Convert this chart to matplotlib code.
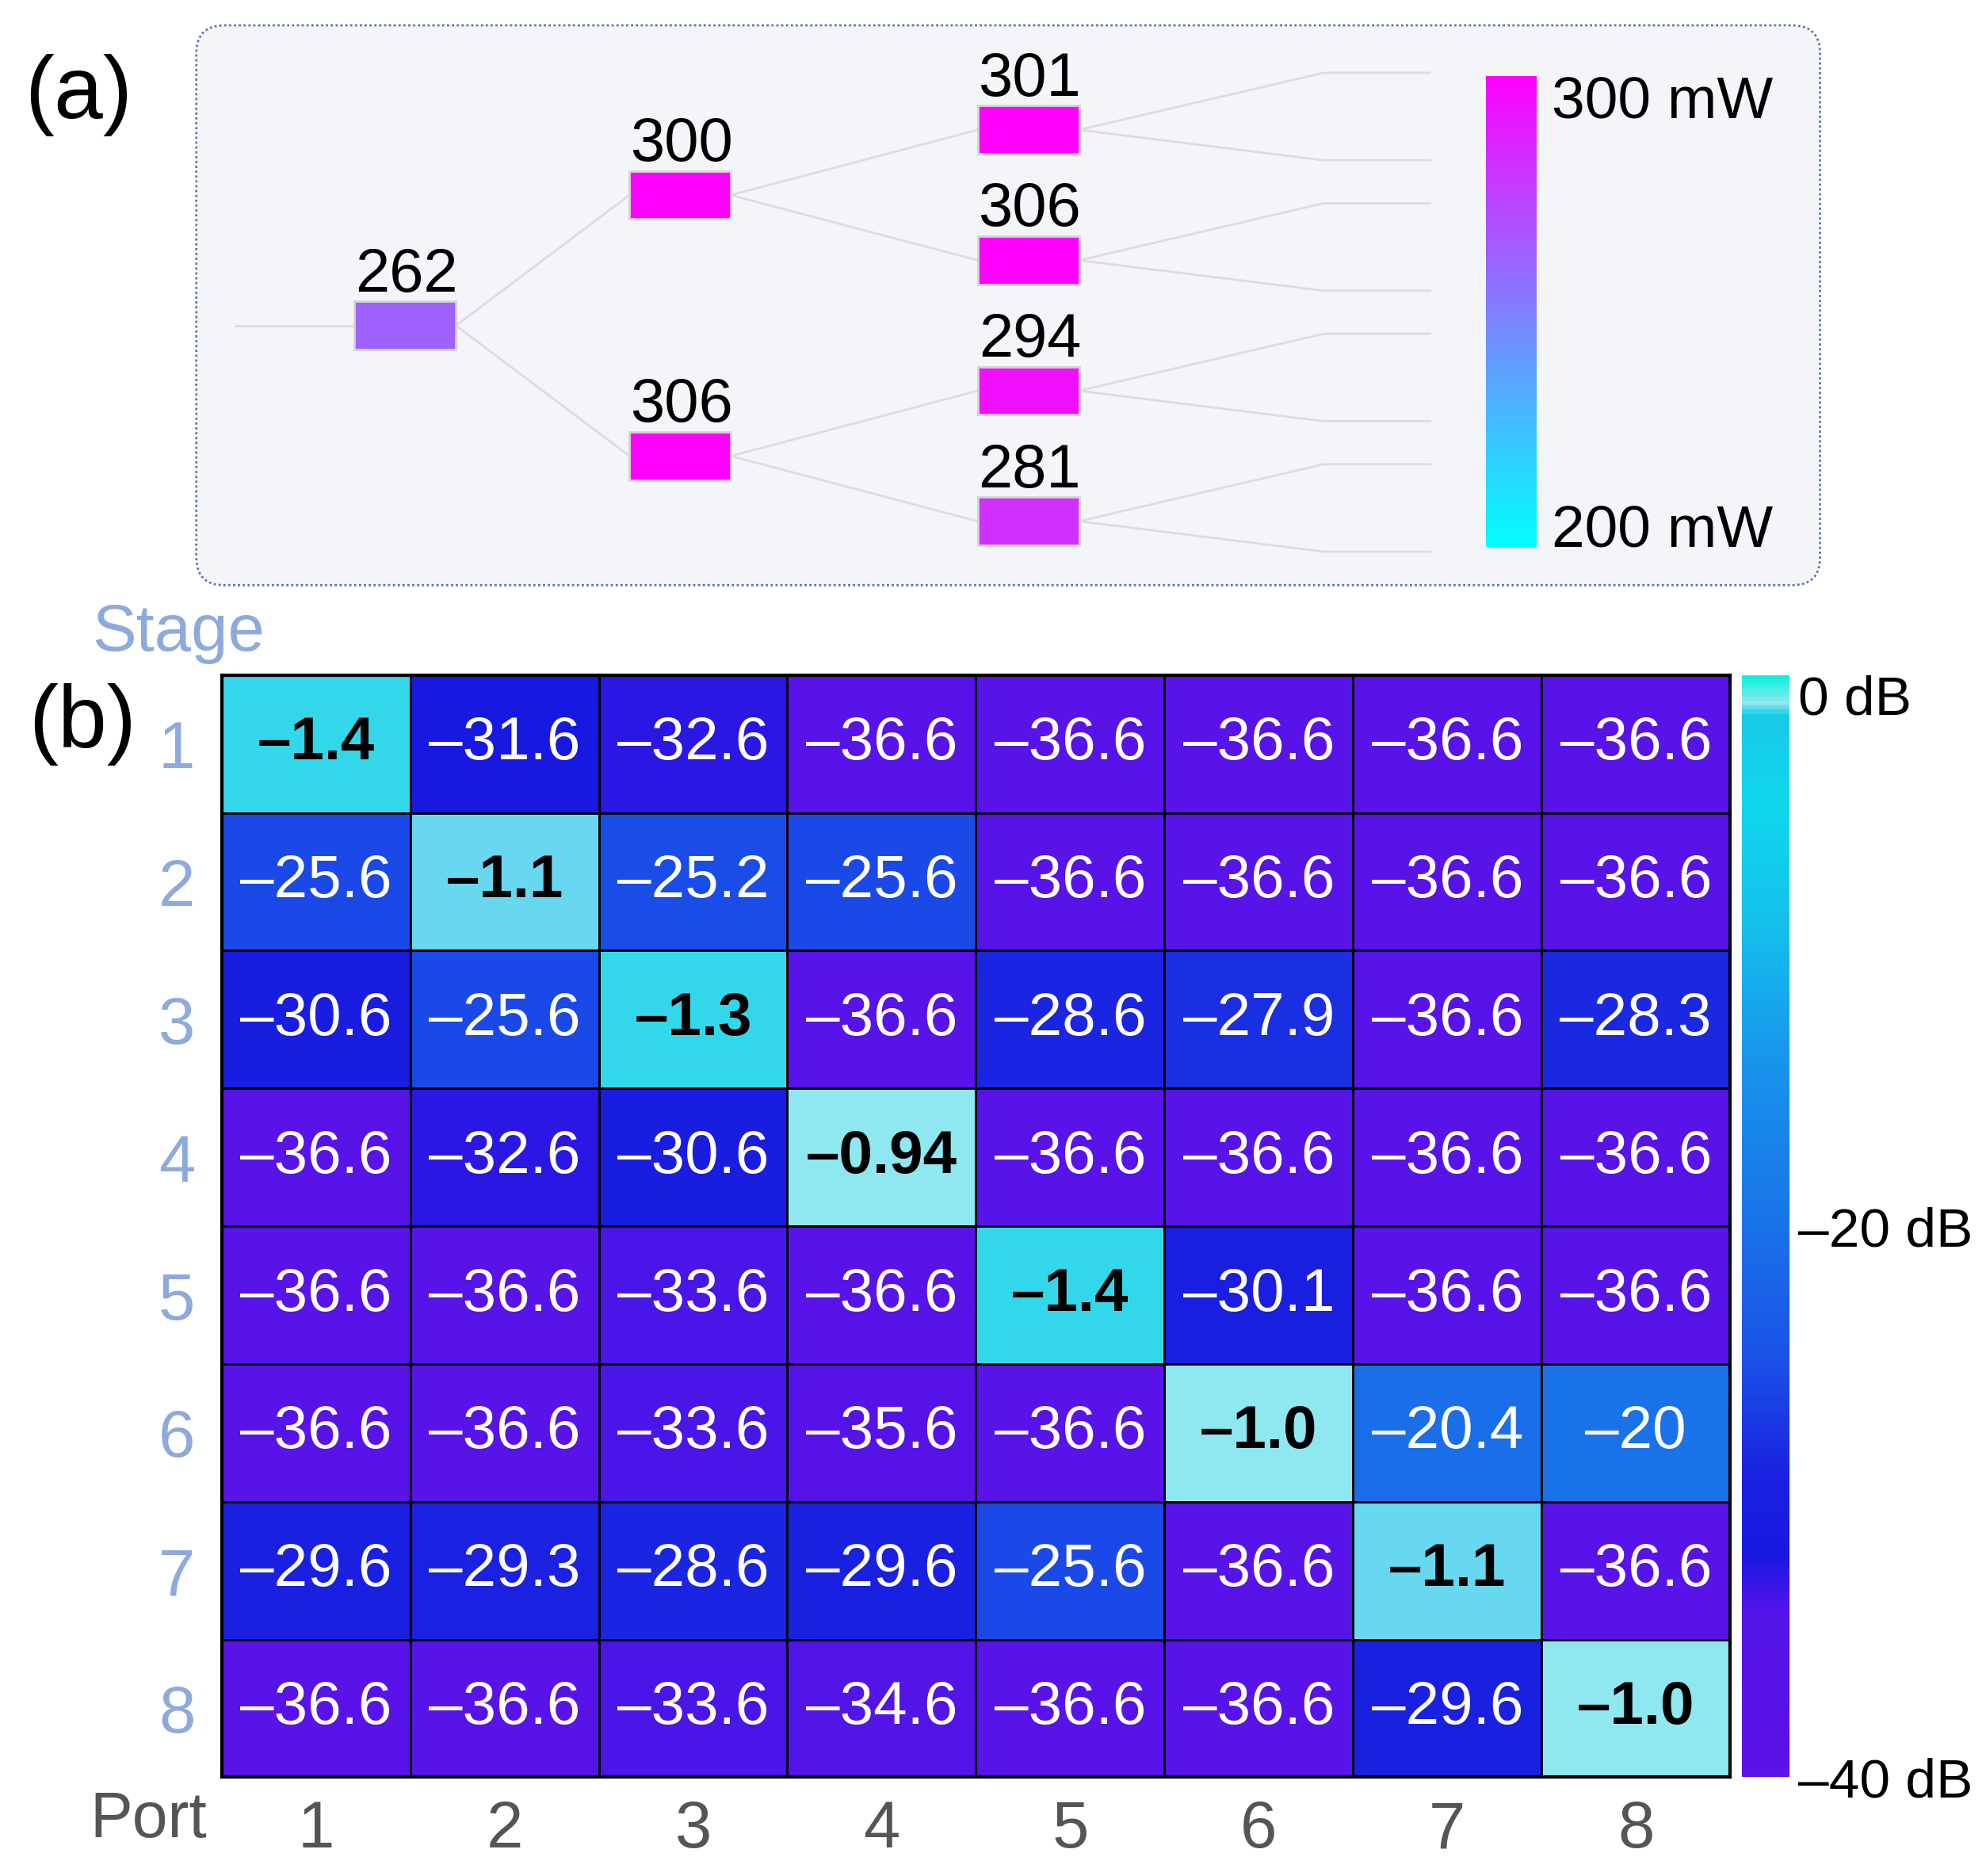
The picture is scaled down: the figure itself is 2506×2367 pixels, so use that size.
import numpy as np
import matplotlib
matplotlib.use("Agg")
import matplotlib.pyplot as plt
from matplotlib.colors import LinearSegmentedColormap, Normalize
from matplotlib.patches import FancyBboxPatch, Rectangle
import matplotlib.cm as cm

plt.rcParams['font.family'] = ['Liberation Sans', 'DejaVu Sans']

# ---------------- data ----------------
# Panel (a): optical power at each splitter stage (mW)
stage1_power = [262]
stage2_power = [300, 306]
stage3_power = [301, 306, 294, 281]
power_limits = [200, 300]
power_tick_labels = ["200 mW", "300 mW"]

# Panel (b): transmission matrix (dB)
stages = ["1", "2", "3", "4", "5", "6", "7", "8"]
ports = ["1", "2", "3", "4", "5", "6", "7", "8"]
loss_labels = [
    ["–1.4", "–31.6", "–32.6", "–36.6", "–36.6", "–36.6", "–36.6", "–36.6"],
    ["–25.6", "–1.1", "–25.2", "–25.6", "–36.6", "–36.6", "–36.6", "–36.6"],
    ["–30.6", "–25.6", "–1.3", "–36.6", "–28.6", "–27.9", "–36.6", "–28.3"],
    ["–36.6", "–32.6", "–30.6", "–0.94", "–36.6", "–36.6", "–36.6", "–36.6"],
    ["–36.6", "–36.6", "–33.6", "–36.6", "–1.4", "–30.1", "–36.6", "–36.6"],
    ["–36.6", "–36.6", "–33.6", "–35.6", "–36.6", "–1.0", "–20.4", "–20"],
    ["–29.6", "–29.3", "–28.6", "–29.6", "–25.6", "–36.6", "–1.1", "–36.6"],
    ["–36.6", "–36.6", "–33.6", "–34.6", "–36.6", "–36.6", "–29.6", "–1.0"],
]
db_limits = [-40, 0]
db_ticks = [0, -20, -40]
db_tick_labels = ["0 dB", "–20 dB", "–40 dB"]

values = np.array([[float(s.replace("–", "-")) for s in row] for row in loss_labels])

# ---------------- layout helpers ----------------
W, H = 1568.0, 1481.0
fig = plt.figure(figsize=(25.06, 23.67), dpi=100)
fig.patch.set_facecolor("white")


def fx(x):
    return x / W


def fy(y):
    return 1 - y / H


ax_a = fig.add_axes([0, 0, 1, 1])
ax_a.set_xlim(0, W)
ax_a.set_ylim(H, 0)
ax_a.axis("off")

# ---------------- panel (a) ----------------
panel = FancyBboxPatch((155, 20), 1282, 442,
                       boxstyle="round,pad=0,rounding_size=22",
                       fc="#f4f5f9", ec="#5b77ad", lw=2.0, ls=(0, (1, 1.2)), zorder=1)
ax_a.add_patch(panel)

pcmap = plt.get_cmap("cool")
pnorm = Normalize(power_limits[0], power_limits[1])

stage_x = [320, 537, 812]
box_w, box_h = 80, 38
y_root = 257
s1_y = [y_root]
s2_y = [y + d for y in s1_y for d in (-103, 103)]
s3_y = [y + d for y in s2_y for d in (-51.5, 51.5)]
line_kw = dict(color="#dcdcdc", lw=2.0, zorder=2, solid_capstyle="butt")

# input line
ax_a.plot([185, stage_x[0] - box_w / 2], [y_root, y_root], **line_kw)
# connections
levels = [s1_y, s2_y, s3_y]
for k in range(2):
    for i, yp in enumerate(levels[k]):
        for yc in levels[k + 1][2 * i:2 * i + 2]:
            ax_a.plot([stage_x[k] + box_w / 2, stage_x[k + 1] - box_w / 2], [yp, yc], **line_kw)
# outputs
for yp in s3_y:
    for dy in (-45, 24):
        ax_a.plot([stage_x[2] + box_w / 2, 1045, 1130], [yp, yp + dy, yp + dy], **line_kw)

powers = [stage1_power, stage2_power, stage3_power]
for k in range(3):
    for yp, p in zip(levels[k], powers[k]):
        ax_a.add_patch(Rectangle((stage_x[k] - box_w / 2, yp - box_h / 2), box_w, box_h,
                                 fc=pcmap(pnorm(p)), ec="#d4d4d4", lw=2.0, zorder=3))
        ax_a.text(stage_x[k] + 1, yp - box_h / 2 - 8, str(p), ha="center", va="baseline",
                  fontsize=56, color="black", zorder=4)

cax_a = fig.add_axes([fx(1173), fy(432), fx(1213) - fx(1173), (432 - 60) / H])
sm_a = cm.ScalarMappable(norm=pnorm, cmap=pcmap)
cb_a = fig.colorbar(sm_a, cax=cax_a)
cb_a.outline.set_visible(False)
cb_a.set_ticks(power_limits)
cb_a.set_ticklabels(power_tick_labels)
cax_a.tick_params(length=0, pad=14, labelsize=54)
for lab, v in zip(cax_a.get_yticklabels(), power_limits):
    lab.set_va("top" if v == power_limits[1] else "baseline")

# ---------------- panel (b) ----------------
heat_cmap = LinearSegmentedColormap.from_list("heat", [
    (0.0, "#5c12e8"),
    (6 / 40, "#5214e8"),
    (8 / 40, "#1818e0"),
    (11 / 40, "#1a22e0"),
    (15 / 40, "#1a50e8"),
    (20 / 40, "#1a72e8"),
    (26 / 40, "#1894ec"),
    (31 / 40, "#14c0ec"),
    (35.5 / 40, "#10d8ec"),
    (38.6 / 40, "#1ac8e8"),
    (38.7 / 40, "#22d8e8"),
    (38.9 / 40, "#68d8f0"),
    (39.0 / 40, "#70e0f0"),
    (39.06 / 40, "#90e8f0"),
    (1.0, "#10f0e0"),
])
hnorm = Normalize(db_limits[0], db_limits[1])

ax_b = fig.add_axes([fx(175), fy(1403), fx(1366) - fx(175), (1403 - 533) / H])
ax_b.pcolormesh(np.arange(len(ports) + 1), np.arange(len(stages) + 1), values,
                cmap=heat_cmap, norm=hnorm, edgecolors="black", linewidth=2.0)
ax_b.set_xlim(0, len(ports))
ax_b.set_ylim(len(stages), 0)
for sp in ax_b.spines.values():
    sp.set_linewidth(3)
ax_b.set_xticks(np.arange(len(ports)) + 0.5)
ax_b.set_xticklabels(ports)
ax_b.set_yticks(np.arange(len(stages)) + 0.5)
ax_b.set_yticklabels(stages)
ax_b.tick_params(axis="x", length=0, pad=20, labelsize=60, labelcolor="#555555")
ax_b.tick_params(axis="y", length=0, pad=24, labelsize=60, labelcolor="#8eaadc")

for i in range(len(stages)):
    for j in range(len(ports)):
        v = values[i, j]
        strong = v > -10
        ax_b.text(j + 0.5, i + 0.5, loss_labels[i][j], ha="center", va="center",
                  fontsize=55, color="black" if strong else "white",
                  fontweight="bold" if strong else "normal")

cax_b = fig.add_axes([fx(1375), fy(1403), fx(1413) - fx(1375), (1403 - 533) / H])
sm_b = cm.ScalarMappable(norm=hnorm, cmap=heat_cmap)
cb_b = fig.colorbar(sm_b, cax=cax_b)
cb_b.outline.set_visible(False)
cb_b.set_ticks(db_ticks)
cb_b.set_ticklabels(db_tick_labels)
cax_b.tick_params(length=0, pad=8, labelsize=50)
for lab, v in zip(cax_b.get_yticklabels(), db_ticks):
    lab.set_va("top" if v == db_limits[1] else "center_baseline")

# ---------------- free texts ----------------
ax_a.text(62, 75, "(a)", ha="center", va="center", fontsize=80, color="black")
ax_a.text(65, 572, "(b)", ha="center", va="center", fontsize=80, color="black")
ax_a.text(141, 500, "Stage", ha="center", va="center", fontsize=60, color="#8eaadc")
ax_a.text(117, 1437, "Port", ha="center", va="center", fontsize=58, color="#555555")

fig.savefig("out.png", dpi=100, facecolor="white")
